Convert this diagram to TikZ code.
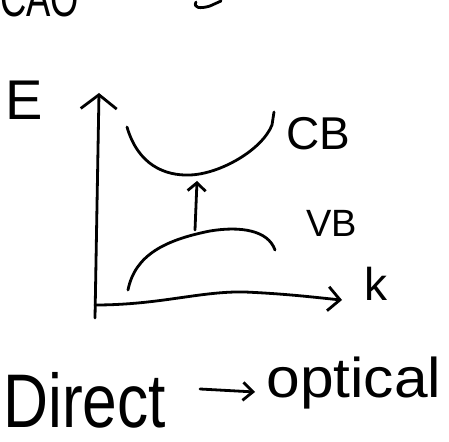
\documentclass[tikz,border=0pt]{standalone}
\usepackage{fontspec}
\setmainfont{Liberation Sans}
\usetikzlibrary{arrows.meta}
\begin{document}
\begin{tikzpicture}[x=0.5pt,y=-0.5pt,
  pen/.style={line width=1.4pt, line cap=round, line join=round},
  lbl/.style={inner sep=0pt, anchor=base west},
  barb/.style={-{Straight Barb[length=#1, width=2*#1]}}
  ]
\useasboundingbox (0,0) rectangle (449,442);
% cut-off handwriting at the top edge
\node[lbl, font=\fontsize{26}{30}\selectfont] (top) at (0,17) {\scalebox{0.7}[1]{CAO}};
\coordinate (f1) at (196,2);
\coordinate (f2) at (221,1);
\draw[pen] (f1) .. controls (193,8) and (200,9) .. (210,6) -- (f2);
% axes
\coordinate (O) at (95,305);
\coordinate (Ebot) at (95,318);
\coordinate (Etop) at (99,93);
\coordinate (kend) at (342,300);
\draw[pen, -{Straight Barb[length=7pt, width=18pt]}] (Ebot) -- (Etop);
\draw[pen, -{Straight Barb[length=6pt, width=12pt]}] (O) .. controls (160,305) and (200,291) .. (245,292) .. controls (290,294) and (320,298) .. (kend);
% bands
\coordinate (cb1) at (127,127);
\coordinate (cbbot) at (190,175);
\coordinate (cb2) at (274,112);
\draw[pen] (cb1) .. controls (138,165) and (165,176) .. (cbbot) .. controls (220,174) and (262,150) .. (272,125) -- (cb2);
\coordinate (vb1) at (128,290);
\coordinate (vbtop) at (210,231);
\coordinate (vb2) at (275,250);
\draw[pen] (vb1) .. controls (135,255) and (165,240) .. (vbtop) .. controls (240,226) and (268,230) .. (vb2);
% transition arrow
\coordinate (t1) at (195,230);
\coordinate (t2) at (197,181);
\draw[pen, -{Straight Barb[length=4pt, width=9pt]}] (t1) -- (t2);
% labels
\node[lbl, font=\fontsize{28}{32}\selectfont] (E) at (5,120) {E};
\node[lbl, font=\fontsize{23}{27}\selectfont] (CB) at (286,150) {CB};
\node[lbl, font=\fontsize{19}{23}\selectfont] (VB) at (306,237) {VB};
\node[lbl, font=\fontsize{23}{27}\selectfont] (k) at (364,301) {k};
\node[lbl, font=\fontsize{38}{42}\selectfont] (direct) at (3,428) {\scalebox{0.82}[1]{Direct}};
\node[lbl, font=\fontsize{28}{32}\selectfont] (optical) at (266,398) {\scalebox{1.08}[1]{optical}};
\coordinate (a1) at (200,389);
\coordinate (a2) at (255,392);
\draw[pen, -{Straight Barb[length=5pt, width=9pt]}] (a1) -- (a2);
\end{tikzpicture}
\end{document}
